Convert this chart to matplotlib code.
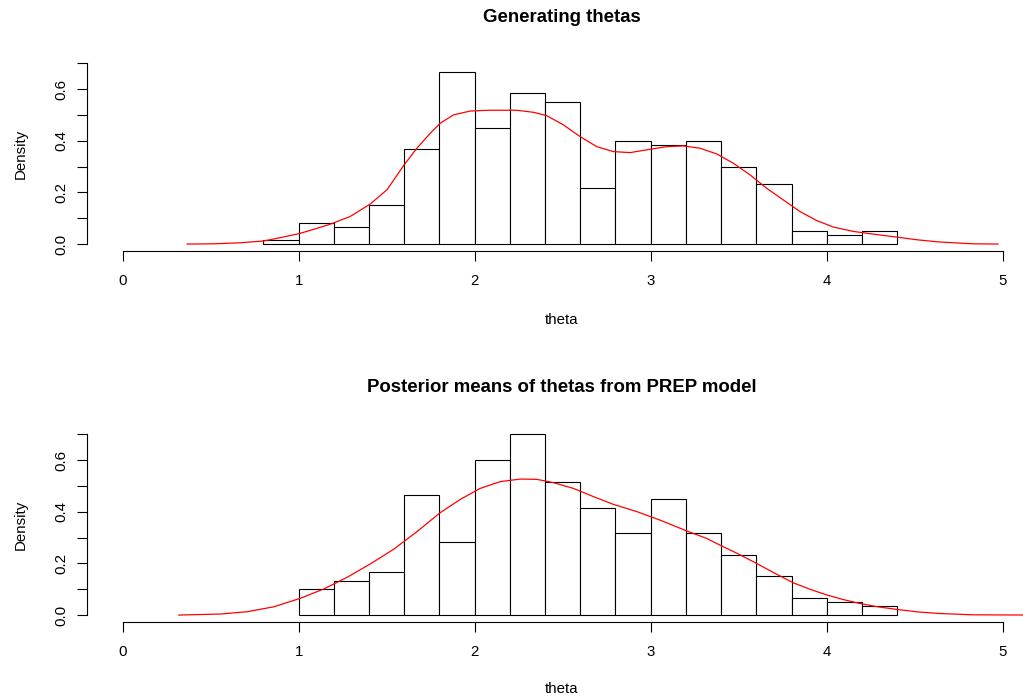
import numpy as np
import matplotlib.pyplot as plt

plt.rcParams['font.family'] = ['Liberation Sans', 'DejaVu Sans']

# histogram data (bin width 0.2, n = 300)
n_obs = 300
bw = 0.2
gen_left = [0.8, 1.0, 1.2, 1.4, 1.6, 1.8, 2.0, 2.2, 2.4, 2.6, 2.8, 3.0, 3.2, 3.4, 3.6, 3.8, 4.0, 4.2]
gen_counts = [1, 5, 4, 9, 22, 40, 27, 35, 33, 13, 24, 23, 24, 18, 14, 3, 2, 3]

post_left = [1.0, 1.2, 1.4, 1.6, 1.8, 2.0, 2.2, 2.4, 2.6, 2.8, 3.0, 3.2, 3.4, 3.6, 3.8, 4.0, 4.2]
post_counts = [6, 8, 10, 28, 17, 36, 42, 31, 25, 19, 27, 19, 14, 9, 4, 3, 2]

# density curves
gen_dx = [0.367, 0.518, 0.670, 0.802, 0.897, 1.001, 1.086, 1.180, 1.294, 1.407, 1.502,
          1.600, 1.672, 1.748, 1.805, 1.880, 1.975, 2.089, 2.240, 2.335, 2.410, 2.505,
          2.599, 2.694, 2.788, 2.883, 2.997, 3.091, 3.186, 3.280, 3.375, 3.469, 3.564,
          3.659, 3.753, 3.848, 3.943, 4.037, 4.151, 4.270, 4.397, 4.520, 4.642, 4.831, 4.973]
gen_dy = [0.0, 0.001, 0.005, 0.012, 0.025, 0.040, 0.057, 0.077, 0.107, 0.155, 0.210,
          0.307, 0.371, 0.429, 0.468, 0.500, 0.515, 0.518, 0.518, 0.510, 0.497, 0.461,
          0.416, 0.377, 0.358, 0.354, 0.367, 0.377, 0.380, 0.371, 0.349, 0.313, 0.268,
          0.216, 0.171, 0.126, 0.091, 0.066, 0.049, 0.038, 0.027, 0.016, 0.008, 0.001, 0.0]

post_dx = [0.320, 0.556, 0.708, 0.859, 1.010, 1.143, 1.275, 1.407, 1.540, 1.672, 1.805,
           1.918, 2.032, 2.145, 2.259, 2.353, 2.448, 2.561, 2.675, 2.788, 2.921, 3.053,
           3.205, 3.318, 3.394, 3.500, 3.602, 3.705, 3.810, 3.905, 4.000, 4.094, 4.188,
           4.290, 4.397, 4.520, 4.642, 4.831, 5.2]
post_dy = [0.0, 0.004, 0.013, 0.032, 0.065, 0.101, 0.146, 0.198, 0.255, 0.323, 0.397,
           0.448, 0.491, 0.517, 0.527, 0.526, 0.513, 0.491, 0.459, 0.429, 0.401, 0.368,
           0.326, 0.297, 0.271, 0.236, 0.200, 0.162, 0.125, 0.100, 0.078, 0.060, 0.045,
           0.032, 0.022, 0.012, 0.006, 0.001, 0.0]

W, H = 1023, 697
fig = plt.figure(figsize=(W / 100, H / 100), dpi=100)


def px_rect(left, top, right, bottom):
    return [left / W, 1 - bottom / H, (right - left) / W, (bottom - top) / H]


def panel(rect, lefts, counts, dx, dy, title, title_y, xlab_y):
    ax = fig.add_axes(rect)
    dens = np.array(counts) / (n_obs * bw)
    ax.bar(lefts, dens, width=bw, align='edge', facecolor='white',
           edgecolor='black', linewidth=0.8)
    ax.plot(dx, dy, color='red', linewidth=0.9)
    ax.set_xlim(-0.2, 5.2)
    ax.set_ylim(-0.028, 0.728)
    for s in ['top', 'right']:
        ax.spines[s].set_visible(False)
    ax.spines['bottom'].set_bounds(0, 5)
    ax.spines['left'].set_bounds(0, 0.7)
    ax.spines['bottom'].set_linewidth(0.8)
    ax.spines['left'].set_linewidth(0.8)
    ax.set_xticks([0, 1, 2, 3, 4, 5])
    ax.set_yticks(np.arange(0, 0.71, 0.1))
    ax.set_yticklabels(['0.0', '', '0.2', '', '0.4', '', '0.6', ''],
                       rotation=90, va='center')
    ax.tick_params(axis='x', length=7, width=0.8, pad=9.5, labelsize=10.8)
    ax.tick_params(axis='y', length=7, width=0.8, pad=6.5, labelsize=10.8)
    fig.text(562 / W, 1 - title_y / H, title, ha='center', va='center',
             fontsize=13.4, fontweight='bold')
    fig.text(562 / W, 1 - xlab_y / H, 'theta', ha='center', va='center', fontsize=10.8)
    yc = (rect[1] + rect[1] + rect[3]) / 2
    fig.text(21 / W, yc, 'Density', ha='center', va='center', rotation=90, fontsize=10.8)
    return ax


panel(px_rect(87.3, 56.0, 1038, 251.3), gen_left, gen_counts, gen_dx, gen_dy,
      'Generating thetas', 17, 320)
panel(px_rect(87.3, 427.2, 1038, 622.3), post_left, post_counts, post_dx, post_dy,
      'Posterior means of thetas from PREP model', 388, 689)

fig.savefig('out.png', dpi=100)
